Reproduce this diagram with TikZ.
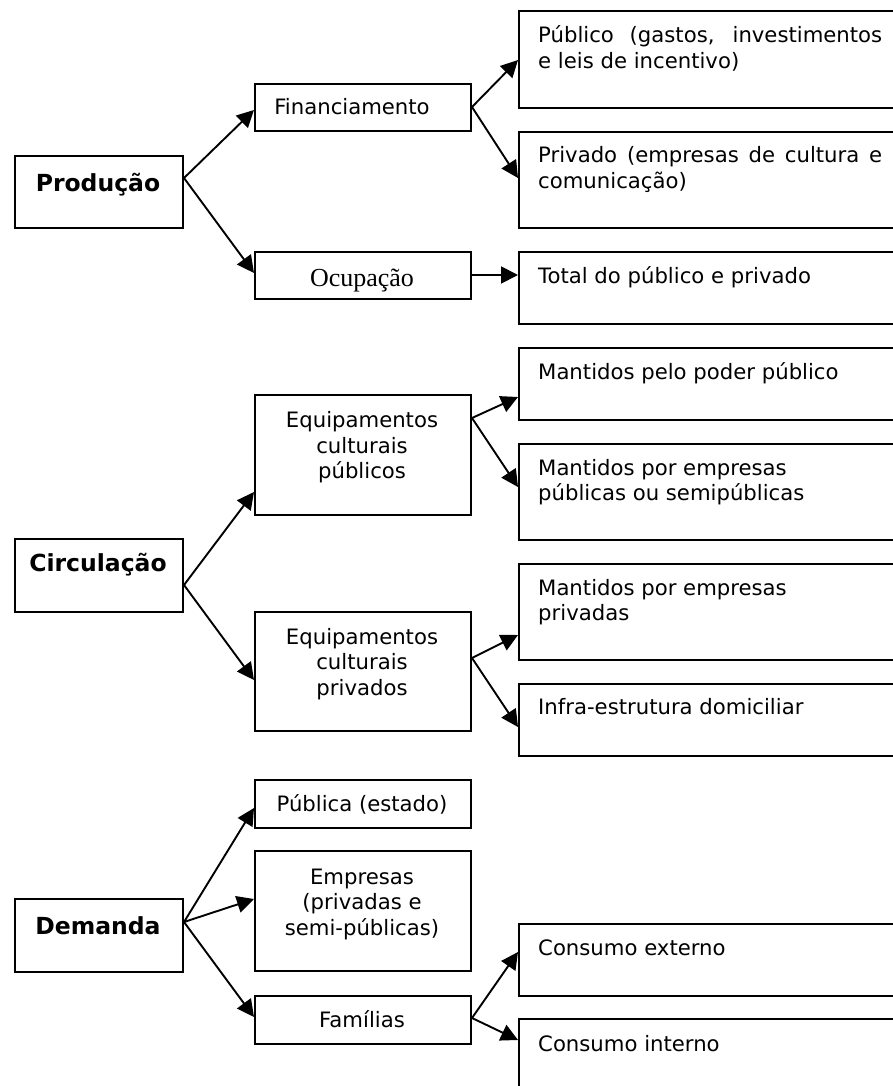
\documentclass[tikz,border=0pt]{standalone}
\usepackage{fontspec}
\setmainfont{DejaVu Sans}
\newfontfamily\serifocc{Liberation Serif}
\usetikzlibrary{arrows.meta}
\begin{document}
\begin{tikzpicture}[x=1pt,y=-1pt,
  box/.style={draw, line width=2pt, rectangle, inner sep=0pt, anchor=north west},
  arr/.style={-{Triangle[length=17pt,width=17pt]}, line width=1.9pt},
  txt/.style={inner sep=0pt, font=\fontsize{21.2}{26}\selectfont},
  head/.style={inner sep=0pt, anchor=base, font=\fontsize{23.5}{28}\selectfont\bfseries},
  mid/.style={txt, anchor=base},
  rgt/.style={txt, anchor=base west},
]
\clip (0,0) rectangle (893,1086);
\fill[white] (0,0) rectangle (893,1086);

% first level
\node[box, minimum width=168pt, minimum height=72pt] (prod) at (14,155) {};
\node[box, minimum width=168pt, minimum height=73pt] (circ) at (14,538) {};
\node[box, minimum width=168pt, minimum height=73pt] (dem)  at (14,898) {};

% second level
\node[box, minimum width=216pt, minimum height=47pt]  (fin)    at (254,83)  {};
\node[box, minimum width=216pt, minimum height=47pt]  (ocup)   at (254,251) {};
\node[box, minimum width=216pt, minimum height=120pt] (eqpub)  at (254,394) {};
\node[box, minimum width=216pt, minimum height=119pt] (eqpriv) at (254,611) {};
\node[box, minimum width=216pt, minimum height=48pt]  (pubest) at (254,779) {};
\node[box, minimum width=216pt, minimum height=120pt] (empr)   at (254,850) {};
\node[box, minimum width=216pt, minimum height=48pt]  (fam)    at (254,995) {};

% third level
\node[box, minimum width=382pt, minimum height=97pt]  (pubr)  at (518,10)   {};
\node[box, minimum width=382pt, minimum height=96pt]  (privr) at (518,131)  {};
\node[box, minimum width=382pt, minimum height=72pt]  (total) at (518,251)  {};
\node[box, minimum width=382pt, minimum height=72pt]  (mpp)   at (518,347)  {};
\node[box, minimum width=382pt, minimum height=96pt]  (mpe)   at (518,443)  {};
\node[box, minimum width=382pt, minimum height=96pt]  (mpriv) at (518,563)  {};
\node[box, minimum width=382pt, minimum height=72pt]  (infra) at (518,683)  {};
\node[box, minimum width=382pt, minimum height=72pt]  (cext)  at (518,923)  {};
\node[box, minimum width=382pt, minimum height=90pt]  (cint)  at (518,1018) {};

% labels
\node[head] (lprod) at (98,191) {Produção};
\node[head] (lcirc) at (98,571) {Circulação};
\node[head] (ldem)  at (98,934) {Demanda};

\node[mid] (lfin) at (352,115) {Financiamento};
\node[inner sep=0pt, anchor=base, font=\serifocc\fontsize{26}{30}\selectfont] (locup) at (362,286) {Ocupação};
\node[mid] (leqa1) at (362,427) {Equipamentos};
\node[mid] (leqa2) at (362,453) {culturais};
\node[mid] (leqa3) at (362,478) {públicos};
\node[mid] (leqb1) at (362,644) {Equipamentos};
\node[mid] (leqb2) at (362,669) {culturais};
\node[mid] (leqb3) at (362,695) {privados};
\node[mid] (lpubest) at (362,811) {Pública (estado)};
\node[mid] (lemp1) at (362,884) {Empresas};
\node[mid] (lemp2) at (362,909) {(privadas e};
\node[mid] (lemp3) at (362,935) {semi-públicas)};
\node[mid] (lfam) at (362,1027) {Famílias};

\node[rgt] (lpub1) at (538,43) {\makebox[344pt][s]{Público (gastos, investimentos}};
\node[rgt] (lpub2) at (538,69) {e leis de incentivo)};
\node[rgt] (lpriv1) at (538,163) {\makebox[344pt][s]{Privado (empresas de cultura e}};
\node[rgt] (lpriv2) at (538,189) {comunicação)};
\node[rgt] (ltot) at (538,283) {Total do público e privado};
\node[rgt] (lmpp) at (538,379) {Mantidos pelo poder público};
\node[rgt] (lmpe1) at (538,475) {Mantidos por empresas};
\node[rgt] (lmpe2) at (538,500) {públicas ou semipúblicas};
\node[rgt] (lmpr1) at (538,595) {Mantidos por empresas};
\node[rgt] (lmpr2) at (538,620) {privadas};
\node[rgt] (linf) at (538,714) {Infra-estrutura domiciliar};
\node[rgt] (lcext) at (538,955) {Consumo externo};
\node[rgt] (lcint) at (538,1051) {Consumo interno};

% connectors
\draw[arr] (prod.east |- 0,178) -- (fin.west |- 0,110);
\draw[arr] (prod.east |- 0,178) -- (ocup.west |- 0,273);
\draw[arr] (fin.east |- 0,107) -- (pubr.west |- 0,60);
\draw[arr] (fin.east |- 0,107) -- (privr.west |- 0,178);
\draw[arr] (ocup.east |- 0,275) -- (total.west |- 0,275);

\draw[arr] (circ.east |- 0,585) -- (eqpub.west |- 0,492);
\draw[arr] (circ.east |- 0,585) -- (eqpriv.west |- 0,680);
\draw[arr] (eqpub.east |- 0,418) -- (mpp.west |- 0,397);
\draw[arr] (eqpub.east |- 0,418) -- (mpe.west |- 0,487);
\draw[arr] (eqpriv.east |- 0,658) -- (mpriv.west |- 0,635);
\draw[arr] (eqpriv.east |- 0,658) -- (infra.west |- 0,727);

\draw[arr] (dem.east |- 0,922) -- (pubest.west |- 0,808);
\draw[arr] (dem.east |- 0,922) -- (empr.west |- 0,899);
\draw[arr] (dem.east |- 0,922) -- (fam.west |- 0,1017);
\draw[arr] (fam.east |- 0,1018) -- (cext.west |- 0,952);
\draw[arr] (fam.east |- 0,1018) -- (cint.west |- 0,1040);
\end{tikzpicture}
\end{document}
